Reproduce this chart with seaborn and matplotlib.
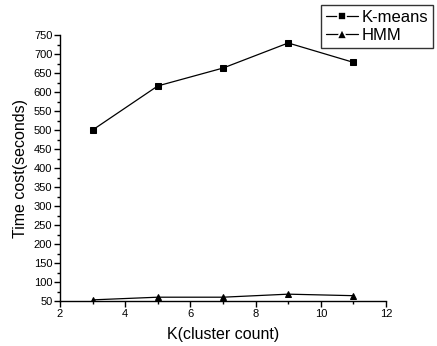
import matplotlib
matplotlib.use("Agg")
import matplotlib.pyplot as plt
import seaborn as sns
import pandas as pd
from matplotlib.ticker import MultipleLocator

k_values = [3, 5, 7, 9, 11]
kmeans_cost = [500, 616, 663, 729, 678]
hmm_cost = [53, 60, 60, 68, 64]
series_names = ["K-means", "HMM"]

sns.set_theme(style="ticks")
plt.rcParams['font.family'] = ['Liberation Sans', 'DejaVu Sans']
plt.rcParams['text.color'] = 'black'
plt.rcParams['axes.labelcolor'] = 'black'
plt.rcParams['xtick.color'] = 'black'
plt.rcParams['ytick.color'] = 'black'

df = pd.DataFrame({
    "K": k_values * 2,
    "cost": kmeans_cost + hmm_cost,
    "method": [series_names[0]] * len(k_values) + [series_names[1]] * len(k_values),
})

fig = plt.figure(figsize=(4.37, 3.46), dpi=100)
ax = fig.add_axes([60/437, 45/346, 326/437, 266/346])

sns.lineplot(data=df, x="K", y="cost", hue="method", style="method",
             markers={"K-means": "s", "HMM": "^"}, dashes=False,
             palette={"K-means": "black", "HMM": "black"},
             linewidth=0.9, markersize=5, markeredgecolor="black",
             ax=ax, legend=False)

ax.set_xlim(2, 12)
ax.set_ylim(50, 750)
ax.xaxis.set_major_locator(MultipleLocator(2))
ax.xaxis.set_minor_locator(MultipleLocator(1))
ax.yaxis.set_major_locator(MultipleLocator(50))
ax.yaxis.set_minor_locator(MultipleLocator(25))
ax.tick_params(axis="both", which="major", length=4, width=1, labelsize=8, pad=1.5, color="black")
ax.tick_params(axis="both", which="minor", length=2.5, width=1, color="black")
for s in ["top", "right"]:
    ax.spines[s].set_visible(False)
for s in ["left", "bottom"]:
    ax.spines[s].set_color("black")
    ax.spines[s].set_linewidth(1)

ax.set_xlabel("K(cluster count)", fontsize=11.5, labelpad=6)
ax.set_ylabel("Time cost(seconds)", fontsize=11.5, labelpad=4)

handles = [
    plt.Line2D([], [], color="black", marker="s", markersize=6, linewidth=0.9,
               markeredgecolor="white", markeredgewidth=1.2),
    plt.Line2D([], [], color="black", marker="^", markersize=7.5, linewidth=0.9,
               markeredgecolor="white", markeredgewidth=1.2),
]
leg = fig.legend(handles, series_names, loc="upper right",
                 bbox_to_anchor=(433/437, 1 - 5/346), fontsize=12,
                 frameon=True, fancybox=False, edgecolor="black",
                 handlelength=1.9, handletextpad=0.2, borderpad=0.3,
                 labelspacing=0.2, borderaxespad=0)
leg.get_frame().set_linewidth(1)

fig.savefig("out.png", dpi=100)
